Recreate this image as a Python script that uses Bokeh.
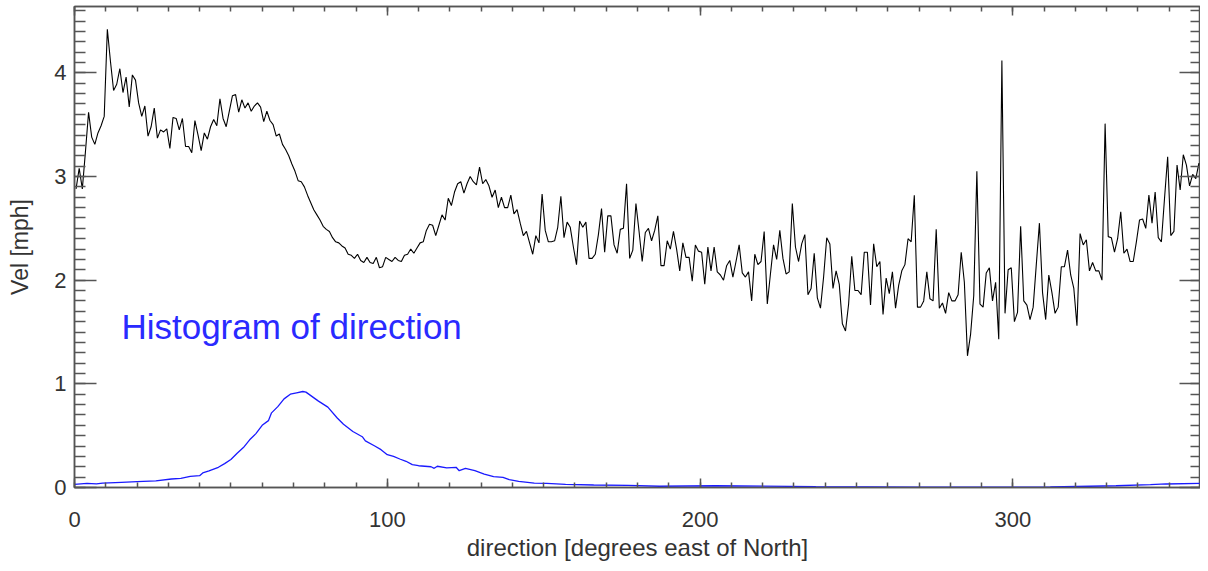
from bokeh.plotting import figure
from bokeh.models import Range1d, LinearAxis, SingleIntervalTicker, CustomJSTickFormatter, Label
from bokeh.embed import file_html
from bokeh.resources import INLINE

# ---------------- data ----------------
# mean velocity per 1-degree direction bin (bins 0..359)
vel = [
    2.88, 3.08, 2.88, 3.24, 3.62, 3.38, 3.31, 3.42, 3.49, 3.58,
    4.42, 4.11, 3.83, 3.89, 4.04, 3.81, 3.96, 3.67, 3.98, 3.93,
    3.71, 3.58, 3.68, 3.39, 3.48, 3.66, 3.37, 3.45, 3.43, 3.46,
    3.27, 3.57, 3.56, 3.45, 3.56, 3.29, 3.29, 3.23, 3.54, 3.40,
    3.25, 3.42, 3.36, 3.48, 3.55, 3.49, 3.75, 3.56, 3.48, 3.63,
    3.78, 3.79, 3.62, 3.74, 3.66, 3.71, 3.63, 3.68, 3.71, 3.67,
    3.53, 3.63, 3.54, 3.50, 3.39, 3.41, 3.31, 3.26, 3.20, 3.12,
    3.05, 2.96, 2.95, 2.90, 2.82, 2.75, 2.68, 2.63, 2.58, 2.52,
    2.49, 2.47, 2.41, 2.37, 2.36, 2.33, 2.31, 2.25, 2.24, 2.21,
    2.25, 2.19, 2.17, 2.22, 2.17, 2.16, 2.22, 2.12, 2.13, 2.22,
    2.20, 2.18, 2.22, 2.19, 2.18, 2.24, 2.25, 2.30, 2.26, 2.31,
    2.36, 2.37, 2.48, 2.54, 2.53, 2.43, 2.53, 2.63, 2.58, 2.79,
    2.72, 2.85, 2.93, 2.95, 2.84, 2.93, 3.00, 2.95, 2.92, 3.09,
    2.93, 2.97, 2.91, 2.80, 2.87, 2.70, 2.80, 2.70, 2.70, 2.82,
    2.64, 2.68, 2.55, 2.43, 2.47, 2.36, 2.25, 2.43, 2.36, 2.83,
    2.48, 2.37, 2.37, 2.38, 2.51, 2.81, 2.41, 2.56, 2.51, 2.32,
    2.15, 2.57, 2.51, 2.56, 2.21, 2.21, 2.25, 2.44, 2.69, 2.27,
    2.62, 2.62, 2.34, 2.26, 2.49, 2.50, 2.93, 2.21, 2.29, 2.74,
    2.47, 2.18, 2.46, 2.50, 2.38, 2.48, 2.62, 2.14, 2.14, 2.38,
    2.30, 2.47, 2.30, 2.09, 2.36, 2.22, 2.22, 1.99, 2.34, 2.28,
    2.27, 1.96, 2.32, 2.09, 2.32, 2.08, 2.05, 2.00, 2.14, 2.19,
    2.03, 2.18, 2.34, 2.07, 2.03, 2.08, 1.80, 2.25, 2.15, 2.18,
    2.47, 1.77, 2.06, 2.34, 2.20, 2.48, 2.21, 2.06, 2.08, 2.74,
    2.32, 2.18, 2.35, 2.44, 1.86, 1.92, 2.26, 1.83, 1.73, 2.03,
    2.41, 2.35, 1.92, 2.09, 1.96, 1.58, 1.51, 1.77, 2.23, 1.90,
    1.90, 1.86, 2.27, 2.27, 1.76, 2.35, 2.13, 2.18, 1.67, 2.02,
    1.87, 2.08, 1.73, 1.95, 2.09, 2.15, 2.40, 2.37, 2.82, 1.74,
    1.74, 1.80, 2.08, 1.82, 1.80, 2.49, 1.73, 1.78, 1.68, 1.88,
    1.80, 1.80, 1.86, 2.27, 1.98, 1.27, 1.48, 1.85, 3.05, 1.77,
    1.74, 2.07, 2.12, 1.80, 1.98, 1.43, 4.12, 1.68, 2.10, 2.12,
    1.60, 1.69, 2.52, 1.80, 1.76, 1.62, 1.74, 2.15, 2.55, 1.88,
    1.62, 2.05, 1.88, 1.68, 1.74, 2.13, 2.13, 2.29, 2.05, 1.92,
    1.56, 2.45, 2.34, 2.39, 2.09, 2.17, 2.09, 2.09, 2.00, 3.51,
    2.42, 2.41, 2.27, 2.40, 2.66, 2.26, 2.30, 2.18, 2.18, 2.37,
    2.58, 2.59, 2.50, 2.82, 2.55, 2.85, 2.41, 2.37, 2.79, 3.19,
    2.43, 2.47, 3.11, 2.87, 3.21, 3.11, 2.91, 3.02, 2.98, 3.13,
]
direction = [k + 0.5 for k in range(len(vel))]

# histogram of direction (scaled), read at selected directions
hist_dir = [0, 4, 7, 9, 15, 20, 26, 31, 34, 37, 40, 41, 43, 46, 48, 50, 52, 54, 56, 58,
            60, 62, 63, 65, 67, 69, 71, 73, 74, 78, 81, 84, 86, 89, 92, 93, 96, 98, 100,
            102, 104, 106, 108, 110, 114, 115, 116, 119, 122, 123, 125, 128, 131, 134,
            137, 139, 142, 147, 151, 157, 166, 177, 187, 205, 237, 269, 312, 333, 344,
            349, 360]
hist_val = [0.03, 0.04, 0.034, 0.043, 0.05, 0.056, 0.063, 0.082, 0.089, 0.108, 0.114,
            0.14, 0.16, 0.195, 0.23, 0.27, 0.33, 0.385, 0.46, 0.52, 0.60, 0.645, 0.72,
            0.78, 0.855, 0.90, 0.913, 0.926, 0.92, 0.833, 0.775, 0.67, 0.61, 0.54, 0.49,
            0.45, 0.40, 0.365, 0.317, 0.30, 0.275, 0.253, 0.22, 0.21, 0.20, 0.185, 0.205,
            0.19, 0.195, 0.162, 0.185, 0.162, 0.13, 0.105, 0.098, 0.075, 0.06, 0.043,
            0.04, 0.03, 0.024, 0.02, 0.012, 0.017, 0.008, 0.003, 0.005, 0.017, 0.027,
            0.034, 0.04]

x_label = "direction [degrees east of North]"
y_label = "Vel [mph]"
hist_title = "Histogram of direction"

FONT = "Liberation Sans"
AX = "#555555"
TXT = "#333333"

p = figure(width=1200, height=563, output_backend="svg", toolbar_location=None,
           x_range=Range1d(0, 360), y_range=Range1d(0, 4.64),
           min_border_left=74, min_border_right=0, min_border_top=6, min_border_bottom=75,
           x_axis_label=x_label, y_axis_label=y_label)
p.grid.visible = False
p.outline_line_color = AX
p.outline_line_width = 1.5
p.background_fill_color = "white"
p.border_fill_color = "white"

xt = SingleIntervalTicker(interval=100, num_minor_ticks=10)
yt = SingleIntervalTicker(interval=1, num_minor_ticks=10)

def style(ax, major_in, minor_in, labels=True):
    ax.axis_line_color = AX
    ax.axis_line_width = 1.5
    ax.major_tick_line_color = AX
    ax.minor_tick_line_color = AX
    ax.major_tick_line_width = 1.5
    ax.minor_tick_line_width = 1.5
    ax.major_tick_in = major_in
    ax.major_tick_out = 0
    ax.minor_tick_in = minor_in
    ax.minor_tick_out = 0
    ax.major_label_text_font = FONT
    ax.major_label_text_font_size = "22px"
    ax.major_label_text_color = TXT
    ax.axis_label_text_font = FONT
    ax.axis_label_text_font_style = "normal"
    ax.axis_label_text_color = TXT
    if not labels:
        ax.formatter = CustomJSTickFormatter(code="return ''")
        ax.major_label_standoff = 0

bx = p.xaxis[0]
bx.ticker = xt
style(bx, 9, 5)
bx.major_label_standoff = 24
bx.axis_label_text_font_size = "24px"
bx.axis_label_standoff = 4

ly = p.yaxis[0]
ly.ticker = yt
style(ly, 22, 11)
ly.major_label_standoff = 8
ly.axis_label_text_font_size = "23px"
ly.axis_label_standoff = 18

tx = LinearAxis(ticker=SingleIntervalTicker(interval=100, num_minor_ticks=10))
style(tx, 9, 5, labels=False)
p.add_layout(tx, "above")
ry = LinearAxis(ticker=SingleIntervalTicker(interval=1, num_minor_ticks=10))
style(ry, 21, 10, labels=False)
p.add_layout(ry, "right")

p.line(direction, vel, line_color="black", line_width=1.1)
p.line(hist_dir, hist_val, line_color="#1a1aff", line_width=1.3)

p.add_layout(Label(x=15, y=1.55, text=hist_title, text_font=FONT, text_font_size="35px",
                   text_color="#2a2aff", text_baseline="alphabetic"))

open("out.html", "w").write(file_html(p, INLINE))
